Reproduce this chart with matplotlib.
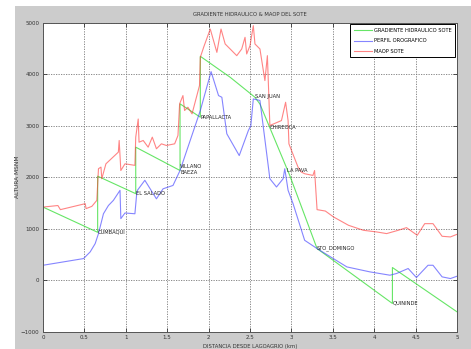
#!/usr/bin/env python3

import matplotlib
matplotlib.use('Agg')
import matplotlib.pyplot as plt
from matplotlib.patches import Rectangle

# gradiente hidraulico (distance, height)
grad_x = [0.0, 0.66, 0.66, 1.12, 1.12, 1.655, 1.655, 1.90, 1.90, 2.26, 2.56, 2.62,
          2.98, 3.31, 4.22, 4.22, 5.0]
grad_y = [1420, 930, 2020, 1680, 2583, 2130, 3424, 3165, 4347, 3941, 3552, 3420,
          2035, 614, -452, 246, -614]

# perfil orografico
orog_x = [0.0, 0.49, 0.57, 0.63, 0.67, 0.73, 0.79, 0.85, 0.93, 0.94, 0.99, 1.11,
          1.13, 1.14, 1.23, 1.37, 1.45, 1.57, 1.655, 1.90, 2.03, 2.12, 2.16, 2.22,
          2.37, 2.48, 2.51, 2.54, 2.62, 2.74, 2.82, 2.90, 2.92, 2.96, 3.02, 3.16,
          3.31, 3.67, 3.95, 4.19, 4.27, 4.41, 4.51, 4.65, 4.71, 4.82, 4.92, 5.0]
orog_y = [290, 420, 550, 710, 905, 1290, 1450, 1550, 1745, 1195, 1305, 1290,
          1650, 1745, 1940, 1580, 1775, 1840, 2130, 3295, 4050, 3585, 3552, 2843,
          2420, 2905, 3000, 3520, 3490, 1970, 1810, 1970, 2165, 1745, 1486, 775,
          614, 258, 161, 97, 130, 227, 52, 290, 290, 65, 32, 77]

# MAOP del SOTE
maop_x = [0.0, 0.18, 0.21, 0.51, 0.52, 0.59, 0.65, 0.67, 0.70, 0.71, 0.76, 0.91,
          0.92, 0.94, 0.99, 1.11, 1.12, 1.15, 1.16, 1.21, 1.27, 1.32, 1.37, 1.43,
          1.49, 1.59, 1.63, 1.65, 1.69, 1.71, 1.75, 1.80, 1.89, 1.90, 1.94, 2.02,
          2.10, 2.15, 2.20, 2.26, 2.34, 2.40, 2.44, 2.46, 2.50, 2.54, 2.56, 2.62,
          2.68, 2.71, 2.74, 2.88, 2.93, 2.96, 2.97, 3.08, 3.12, 3.16, 3.26, 3.28,
          3.31, 3.41, 3.51, 3.69, 3.87, 4.03, 4.15, 4.29, 4.39, 4.52, 4.61, 4.71,
          4.82, 4.92, 5.0]
maop_y = [1420, 1450, 1370, 1486, 1390, 1434, 1550, 2165, 2196, 1970, 2260, 2487,
          2713, 2130, 2260, 2230, 2778, 3130, 2680, 2713, 2583, 2778, 2552, 2648,
          2616, 2648, 2810, 3424, 3585, 3295, 3359, 3230, 3779, 4328, 4522, 4877,
          4424, 4877, 4587, 4490, 4360, 4490, 4716, 4393, 4554, 4942, 4587, 4490,
          3876, 4360, 3004, 3100, 3455, 3100, 2648, 2196, 2100, 2067, 2035, 2130,
          1370, 1343, 1227, 1066, 969, 937, 905, 969, 1021, 872, 1098, 1098,
          853, 840, 891]

stations = ['CUMBAQUI', 'EL SALADO', 'VILLANO\nBAEZA', 'PAPALLACTA', 'SAN JUAN',
            'CHIREOCA', 'LA PAVA', 'STO_DOMINGO', 'QUININDE']
station_x = [0.66, 1.12, 1.655, 1.90, 2.56, 2.74, 2.95, 3.31, 4.22]
station_y = [930, 1680, 2150, 3160, 3560, 2960, 2130, 614, -452]

x_ticks = [0, 0.5, 1, 1.5, 2, 2.5, 3, 3.5, 4, 4.5, 5]
y_ticks = [-1000, 0, 1000, 2000, 3000, 4000, 5000]


def main():
    plt.rcParams['font.family'] = 'DejaVu Sans'
    fig = plt.figure(figsize=(4.71, 3.49), dpi=100)
    fig.patch.set_facecolor('white')
    fig.patches.append(Rectangle((15 / 471, 0), 1 - 15 / 471, 343 / 349,
                                 transform=fig.transFigure, facecolor='#cccccc',
                                 edgecolor='none', zorder=-10))

    ax = fig.add_axes([43 / 471, 17.3 / 349, 414 / 471, 309 / 349])
    ax.set_facecolor('white')

    ax.plot(grad_x, grad_y, color='#33dd33', lw=0.8, alpha=0.75,
            label='GRADIENTE HIDRAULICO SOTE')
    ax.plot(orog_x, orog_y, color='#4444ff', lw=0.8, alpha=0.65,
            label='PERFIL OROGRAFICO')
    ax.plot(maop_x, maop_y, color='#ff3333', lw=0.8, alpha=0.6,
            label='MAOP SOTE')

    for name, sx, sy in zip(stations, station_x, station_y):
        ax.text(sx, sy, name, fontsize=3.7, color='#222222', ha='left',
                va='center', linespacing=1.1)

    ax.set_xlim(0, 5)
    ax.set_ylim(-1000, 5000)
    ax.set_xticks(x_ticks)
    ax.set_xticklabels(['0', '0.5', '1', '1.5', '2', '2.5', '3', '3.5', '4', '4.5', '5'])
    ax.set_yticks(y_ticks)
    ax.tick_params(direction='in', length=3, width=0.6, labelsize=4.0,
                   top=True, right=True, pad=2.5, colors='#333333')
    ax.grid(True, linestyle=(0, (1.5, 1.5)), color='#777777', lw=0.6)
    for sp in ax.spines.values():
        sp.set_linewidth(0.7)
        sp.set_color('#555555')

    ax.set_title('GRADIENTE HIDRAULICO & MAOP DEL SOTE', fontsize=3.8, pad=5,
                 color='#333333')
    ax.set_xlabel('DISTANCIA DESDE LAGOAGRIO (km)', fontsize=3.8, labelpad=3,
                  color='#333333')
    ax.set_ylabel('ALTURA MSNM', fontsize=4.2, labelpad=1, color='#333333')

    leg = ax.legend(loc='upper right', fontsize=3.7, fancybox=False,
                    edgecolor='black', framealpha=1, borderaxespad=0.35,
                    handlelength=3.6, handletextpad=0.3, labelspacing=1.05,
                    borderpad=0.7)
    leg.get_frame().set_linewidth(0.7)

    fig.savefig('out.png', dpi=100)
    plt.close(fig)


if __name__ == '__main__':
    main()
